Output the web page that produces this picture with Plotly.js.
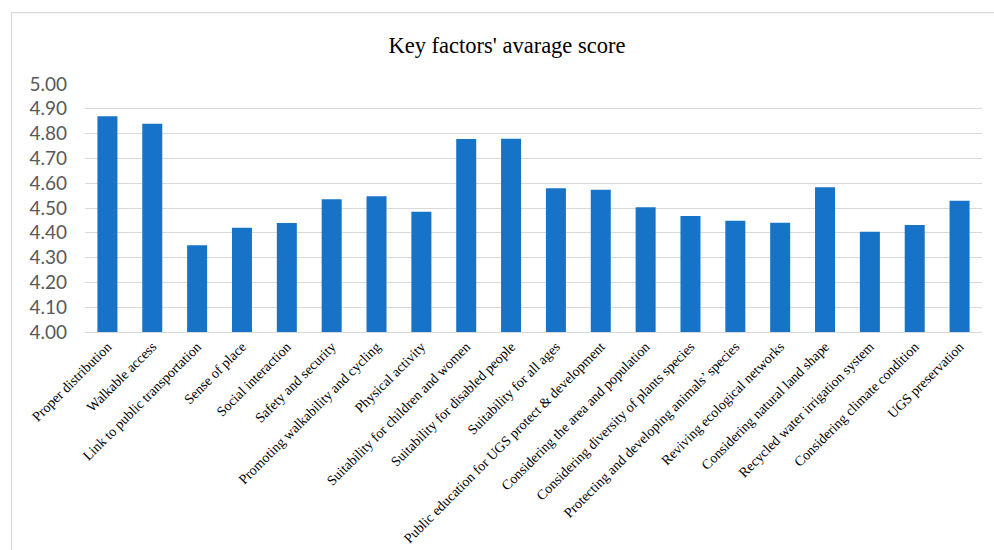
<!DOCTYPE html>
<html>
<head>
<meta charset="utf-8">
<script src="https://cdn.plot.ly/plotly-3.0.1.min.js"></script>
<style>html,body{margin:0;padding:0;background:#fff;}#chart{width:994px;height:550px;}</style>
</head>
<body>
<div id="chart"></div>
<script>
const categories = [
  "Proper distribution",
  "Walkable access",
  "Link to public transportation",
  "Sense of place",
  "Social interaction",
  "Safety and security",
  "Promoting walkability and cycling",
  "Physical activity",
  "Suitability for children and women",
  "Suitability for disabled people",
  "Suitability for all ages",
  "Public education for UGS protect & development",
  "Considering the area and population",
  "Considering diversity of plants species",
  "Protecting and developing animals’ species",
  "Reviving ecological networks",
  "Considering natural land shape",
  "Recycled water irrigation system",
  "Considering climate condition",
  "UGS preservation"
];
const scores = [4.87, 4.84, 4.35, 4.42, 4.44, 4.535, 4.547, 4.485, 4.778, 4.779, 4.58, 4.574, 4.503, 4.468, 4.449, 4.441, 4.584, 4.404, 4.431, 4.529];
const yTicks = [4.0, 4.1, 4.2, 4.3, 4.4, 4.5, 4.6, 4.7, 4.8, 4.9, 5.0];
const yTickLabels = ["4.00", "4.10", "4.20", "4.30", "4.40", "4.50", "4.60", "4.70", "4.80", "4.90", "5.00"];

const trace = {
  type: 'bar',
  x: categories,
  y: scores,
  marker: {color: '#1773c8'},
  hoverinfo: 'x+y'
};

const layout = {
  width: 994,
  height: 550,
  margin: {l: 85, r: 12, t: 84, b: 218},
  paper_bgcolor: '#ffffff',
  plot_bgcolor: '#ffffff',
  bargap: 0.554,
  showlegend: false,
  title: {
    text: "Key factors' avarage score",
    font: {family: '"Liberation Serif", "Times New Roman", serif', size: 22.5, color: '#000000'},
    x: 0.51, xref: 'container', xanchor: 'center',
    y: 0.918, yref: 'container', yanchor: 'middle'
  },
  xaxis: {
    type: 'category',
    tickangle: -45,
    tickfont: {family: '"Liberation Serif", "Times New Roman", serif', size: 14, color: '#000000'},
    showgrid: false,
    showline: true,
    linecolor: '#d9d9d9',
    linewidth: 1,
    ticks: '',
    fixedrange: true
  },
  yaxis: {
    range: [4.0, 5.0],
    tickvals: yTicks,
    ticktext: yTickLabels,
    tickfont: {family: 'Lato, "Open Sans", sans-serif', size: 19, color: '#595959'},
    showgrid: true,
    gridcolor: '#d9d9d9',
    gridwidth: 1,
    zeroline: false,
    showline: false,
    ticks: '',
    ticklabelstandoff: 17,
    fixedrange: true
  },
  shapes: [
    {type: 'line', xref: 'paper', yref: 'paper', x0: -0.0819, x1: 1.2, y0: 1.288, y1: 1.288, line: {color: '#d9d9d9', width: 1.2}},
    {type: 'line', xref: 'paper', yref: 'paper', x0: -0.0819, x1: -0.0819, y0: 1.288, y1: -1.2, line: {color: '#d9d9d9', width: 1.2}}
  ]
};

Plotly.newPlot('chart', [trace], layout, {displayModeBar: false, staticPlot: true});
</script>
</body>
</html>
